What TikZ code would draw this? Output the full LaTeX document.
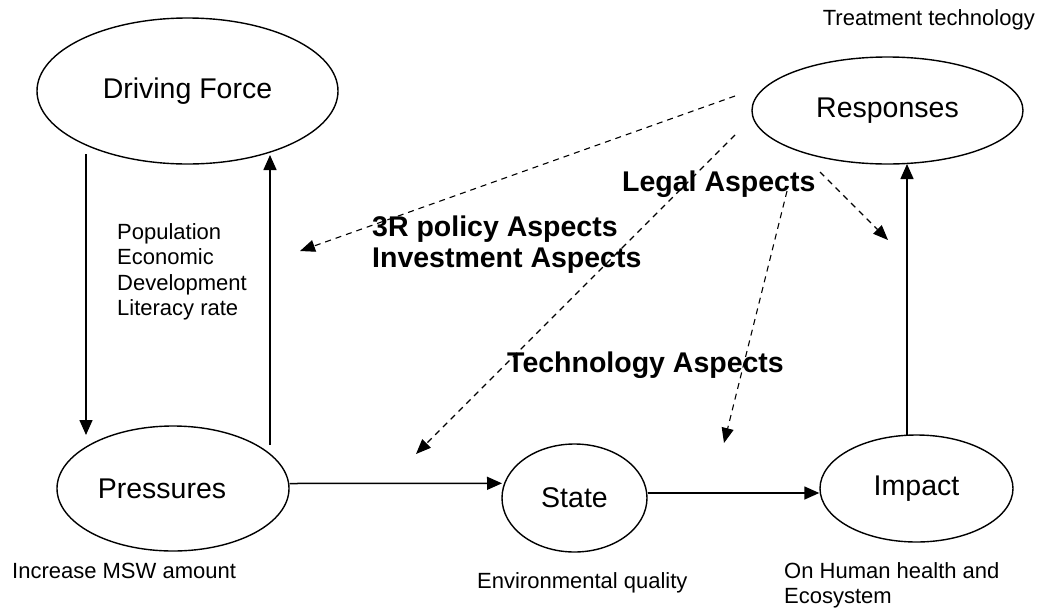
\documentclass[tikz,border=0pt]{standalone}
\usepackage{fontspec}
\setmainfont{Liberation Sans}
\usetikzlibrary{shapes.geometric,arrows.meta,calc}
\begin{document}
\begin{tikzpicture}[x=1pt,y=-1pt,
  ell/.style={draw,ellipse,line width=1.4pt,inner sep=0pt,font=\fontsize{28.5}{34}\selectfont},
  arr/.style={line width=1.5pt,-{Triangle[length=15pt,width=13pt]}},
  darr/.style={line width=1.1pt,dash pattern=on 6pt off 5pt,-{Triangle[length=15pt,width=12pt]}},
  small/.style={font=\fontsize{22}{25.5}\selectfont,inner sep=0pt,anchor=base west},
  bold/.style={font=\fontsize{28.5}{31}\selectfont\bfseries,inner sep=0pt,anchor=base west}]
\useasboundingbox[fill=white] (0,0) rectangle (1045,611);

% ellipses
\node[ell,minimum width=301pt,minimum height=146pt] (df) at (187.5,91) {Driving Force};
\node[ell,minimum width=271pt,minimum height=107pt] (rs) at (887.5,110.5) {Responses};
\node[ell,minimum width=232pt,minimum height=125pt,label={[font=\fontsize{28.5}{34}\selectfont,xshift=-11pt]center:Pressures}] (pr) at (173,488.5) {};
\node[ell,minimum width=145pt,minimum height=108pt] (st) at (574.5,498) {State};
\node[ell,minimum width=193pt,minimum height=107pt] (im) at (916.5,488.5) {Impact};

% solid connectors
\draw[arr] ($(df.center)+(-101.5,63)$) -- ($(pr.center)+(-87,-53.5)$);
\draw[arr] ($(pr.center)+(97,-43.5)$) -- ($(df.center)+(82.5,64)$);
\draw[arr] ($(pr.east)+(0,-5)$) -- ($(st.center)+(-72.5,-14.7)$);
\draw[arr] ($(st.east)+(0,-5)$) -- ($(im.west)+(0,4.5)$);
\draw[arr] ($(im.center)+(-9.5,-53.5)$) -- ($(rs.center)+(19.5,53.5)$);

% dashed connectors (free ends)
\coordinate (d1s) at (735,96);   \coordinate (d1e) at (300,251);
\coordinate (d2s) at (735,135);  \coordinate (d2e) at (416,454);
\coordinate (d3s) at (787,191);  \coordinate (d3e) at (724,443);
\coordinate (d4s) at (820,172);  \coordinate (d4e) at (888,240);
\draw[darr] (d1s) -- (d1e);
\draw[darr] (d2s) -- (d2e);
\draw[darr] (d3s) -- (d3e);
\draw[darr] (d4s) -- (d4e);

% small texts
\node[small,anchor=base east] (tt) at (1035,25) {Treatment technology};
\node[small] (t1) at (117,239) {Population};
\node[small] (t2) at (117,264.5) {Economic};
\node[small] (t3) at (117,290) {Development};
\node[small] (t4) at (117,315.5) {Literacy rate};
\node[small] (b1) at (12,578) {Increase MSW amount};
\node[small] (b2) at (477,588) {Environmental quality};
\node[small] (b3) at (784,578) {On Human health and};
\node[small] (b4) at (784,603) {Ecosystem};

% bold texts
\node[bold] (l1) at (372,236) {3R policy Aspects};
\node[bold] (l2) at (372,267) {Investment Aspects};
\node[bold] (l3) at (622,191) {Legal Aspects};
\node[bold] (l4) at (507,372) {Technology Aspects};
\end{tikzpicture}
\end{document}
